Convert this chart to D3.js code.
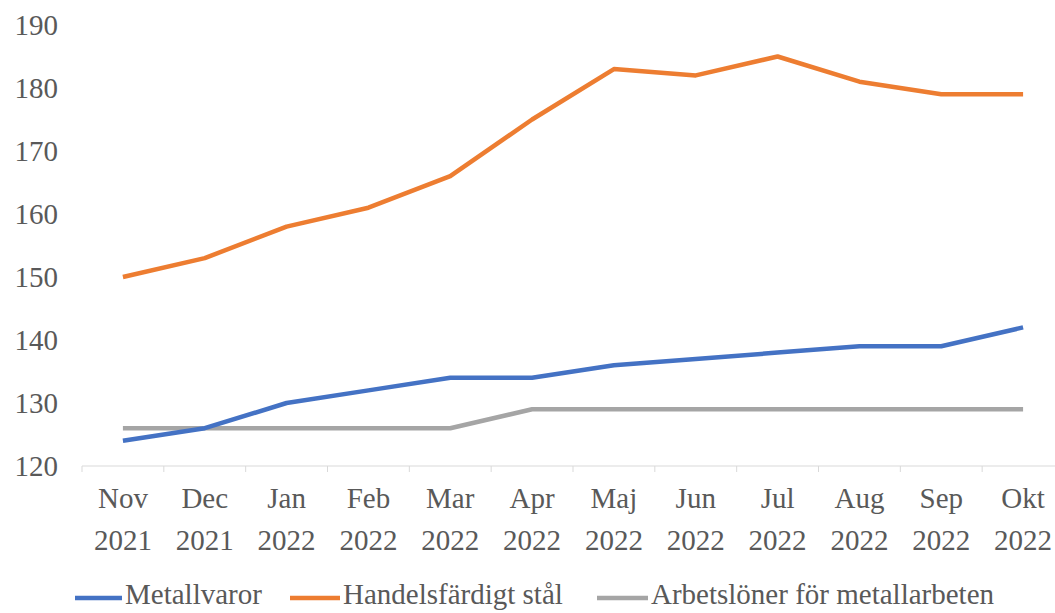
<!DOCTYPE html>
<html>
<head>
<meta charset="utf-8">
<script src="https://cdn.jsdelivr.net/npm/d3@7"></script>
<style>
  html, body { margin: 0; padding: 0; background: #fff; }
  svg { display: block; }
  text { font-family: "Liberation Serif", "DejaVu Serif", serif; fill: #595959; }
</style>
</head>
<body>
<svg id="chart" width="1055" height="613"></svg>
<script>
// Months along the x axis (two-line labels)
const months = ["Nov", "Dec", "Jan", "Feb", "Mar", "Apr", "Maj", "Jun", "Jul", "Aug", "Sep", "Okt"];
const years  = ["2021", "2021", "2022", "2022", "2022", "2022", "2022", "2022", "2022", "2022", "2022", "2022"];

// Index series
const metallvaror  = [124, 126, 130, 132, 134, 134, 136, 137, 138, 139, 139, 142];
const handelsstal  = [150, 153, 158, 161, 166, 175, 183, 182, 185, 181, 179, 179];
const arbetsloner  = [126, 126, 126, 126, 126, 129, 129, 129, 129, 129, 129, 129];

const seriesNames  = ["Metallvaror", "Handelsfärdigt stål", "Arbetslöner för metallarbeten"];
const yTicks = [120, 130, 140, 150, 160, 170, 180, 190];

const colors = ["#4472C4", "#ED7D31", "#A5A5A5"];
const seriesData = [metallvaror, handelsstal, arbetsloner];

const svg = d3.select("#chart");

const x = d3.scaleBand().domain(d3.range(months.length)).range([82, 1064]);
const y = d3.scaleLinear().domain([120, 190]).range([466, 25]);

// Y tick labels (no axis line or gridlines)
svg.append("g").selectAll("text")
  .data(yTicks).join("text")
  .attr("x", 58)
  .attr("y", d => y(d))
  .attr("dy", "0.35em")
  .attr("text-anchor", "end")
  .attr("font-size", 29)
  .text(d => d);

// X axis line with ticks between categories
const xAxis = svg.append("g");
xAxis.append("line")
  .attr("x1", 82).attr("x2", 1064)
  .attr("y1", y(120)).attr("y2", y(120))
  .attr("stroke", "#D9D9D9").attr("stroke-width", 1);
xAxis.selectAll("line.tick")
  .data(d3.range(months.length + 1)).join("line")
  .attr("class", "tick")
  .attr("x1", i => 82 + i * x.step()).attr("x2", i => 82 + i * x.step())
  .attr("y1", y(120)).attr("y2", y(120) + 6)
  .attr("stroke", "#D9D9D9").attr("stroke-width", 1);

const xLabels = svg.append("g").selectAll("text")
  .data(months).join("text")
  .attr("text-anchor", "middle")
  .attr("font-size", 29)
  .attr("x", (d, i) => x(i) + x.bandwidth() / 2);
xLabels.append("tspan").attr("y", 508).text(d => d)
  .attr("x", (d, i) => x(i) + x.bandwidth() / 2);
xLabels.append("tspan").attr("y", 550).text((d, i) => years[i])
  .attr("x", (d, i) => x(i) + x.bandwidth() / 2);

// Lines
const line = d3.line()
  .x((d, i) => x(i) + x.bandwidth() / 2)
  .y(d => y(d));

// Gray first, then blue, then orange so blue sits on the gray where they cross
[2, 0, 1].forEach(k => {
  svg.append("path")
    .datum(seriesData[k])
    .attr("fill", "none")
    .attr("stroke", colors[k])
    .attr("stroke-width", 4.5)
    .attr("stroke-linejoin", "round")
    .attr("d", line);
});

// Legend
const legendItems = [
  { lx: 75,  tx: 125 },
  { lx: 290, tx: 343 },
  { lx: 597, tx: 651 }
];
const legend = svg.append("g");
legendItems.forEach((p, k) => {
  legend.append("line")
    .attr("x1", p.lx).attr("x2", p.tx - 3)
    .attr("y1", 598).attr("y2", 598)
    .attr("stroke", colors[k]).attr("stroke-width", 4.5);
  legend.append("text")
    .attr("x", p.tx).attr("y", 604)
    .attr("font-size", 29)
    .text(seriesNames[k]);
});
</script>
</body>
</html>
